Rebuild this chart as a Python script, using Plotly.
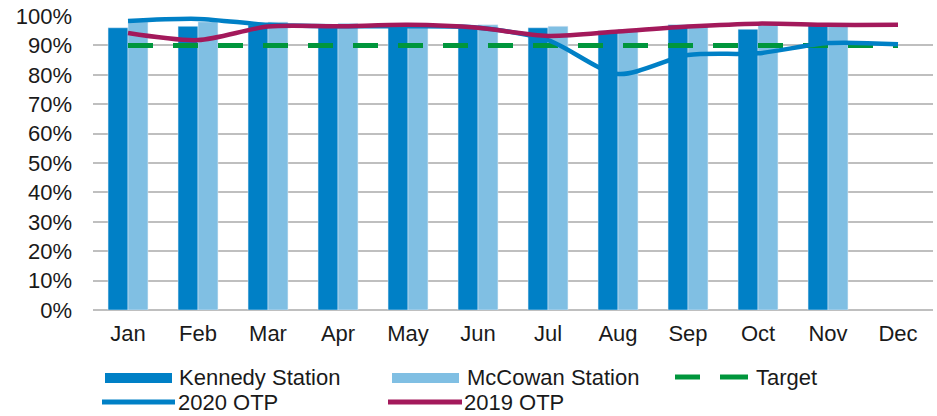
import plotly.graph_objects as go

months = ["Jan", "Feb", "Mar", "Apr", "May", "Jun", "Jul", "Aug", "Sep", "Oct", "Nov", "Dec"]
kennedy = [96, 96.5, 97, 97, 97, 96, 96, 95, 97, 95.5, 97.5, None]
mccowan = [98, 98, 98, 97.5, 97, 97, 96.5, 95.5, 97, 97, 97.5, None]
target = [90] * 12
otp_2020 = [98.3, 99, 97, 96.5, 96.5, 96, 91.8, 80.3, 86.7, 87.3, 90.8, 90.4]
otp_2019 = [94.2, 91.8, 96.4, 96.5, 97, 96, 93.2, 94.7, 96.4, 97.4, 97, 97]

DARK_BLUE = "#0080C6"
LIGHT_BLUE = "#80BFE3"
GREEN = "#00963C"
PURPLE = "#A3195B"
FONT = "Liberation Sans, Arial, sans-serif"

fig = go.Figure()
fig.add_trace(go.Bar(x=months, y=kennedy, name="Kennedy Station", marker_color=DARK_BLUE))
fig.add_trace(go.Bar(x=months, y=mccowan, name="McCowan Station", marker_color=LIGHT_BLUE))
fig.add_trace(go.Scatter(x=months, y=target, name="Target", mode="lines",
                         line=dict(color=GREEN, width=5, dash="25px,20px")))
fig.add_trace(go.Scatter(x=months, y=otp_2020, name="2020 OTP", mode="lines",
                         line=dict(color=DARK_BLUE, width=4.5, shape="spline", smoothing=0.8)))
fig.add_trace(go.Scatter(x=months, y=otp_2019, name="2019 OTP", mode="lines",
                         line=dict(color=PURPLE, width=4.5, shape="spline", smoothing=0.8)))

# hand-drawn legend (wide swatches like the original), pixel -> paper
L, T, PW, PH = 93, 16, 840, 294


def px(x):
    return (x - L) / PW


def py(y):
    return (T + PH - y) / PH


shapes = [
    dict(type="rect", x0=px(105), x1=px(172), y0=py(373), y1=py(383),
         fillcolor=DARK_BLUE, line_width=0),
    dict(type="rect", x0=px(392), x1=px(459), y0=py(373), y1=py(383),
         fillcolor=LIGHT_BLUE, line_width=0),
    dict(type="line", x0=px(675), x1=px(700), y0=py(377), y1=py(377),
         line=dict(color=GREEN, width=5)),
    dict(type="line", x0=px(720), x1=px(748), y0=py(377), y1=py(377),
         line=dict(color=GREEN, width=5)),
    dict(type="line", x0=px(102), x1=px(175), y0=py(402), y1=py(402),
         line=dict(color=DARK_BLUE, width=5)),
    dict(type="line", x0=px(388), x1=px(462), y0=py(402), y1=py(402),
         line=dict(color=PURPLE, width=5)),
]
for s in shapes:
    s.update(xref="paper", yref="paper", layer="above")

labels = [("Kennedy Station", 178, 377), ("McCowan Station", 466, 377), ("Target", 755, 377),
          ("2020 OTP", 177, 402), ("2019 OTP", 463, 402)]
annotations = [
    dict(text=t, x=px(x), y=py(y), xref="paper", yref="paper", xanchor="left", yanchor="middle",
         showarrow=False, borderpad=0, font=dict(size=22, color="#1a1a1a", family=FONT))
    for t, x, y in labels
]

fig.update_layout(
    width=937,
    height=416,
    margin=dict(l=L, r=937 - L - PW, t=T, b=416 - T - PH),
    paper_bgcolor="white",
    plot_bgcolor="white",
    barmode="group",
    bargap=0.43,
    bargroupgap=0,
    showlegend=False,
    font=dict(family=FONT, size=22, color="#1a1a1a"),
    shapes=shapes,
    annotations=annotations,
    xaxis=dict(showgrid=False, showline=False, ticks="", ticklabelstandoff=8,
               tickfont=dict(size=22)),
    yaxis=dict(range=[0, 100], dtick=10, ticksuffix="%", showgrid=True,
               gridcolor="#BFBFBF", gridwidth=2, zeroline=True, zerolinecolor="#BFBFBF",
               zerolinewidth=2, showline=False, ticks="", ticklabelstandoff=20,
               tickfont=dict(size=22)),
)

# the page's default body margin would shift the chart by 8px
fig.write_html("out.html", config={"displayModeBar": False},
               post_script="document.body.style.margin='0';")
